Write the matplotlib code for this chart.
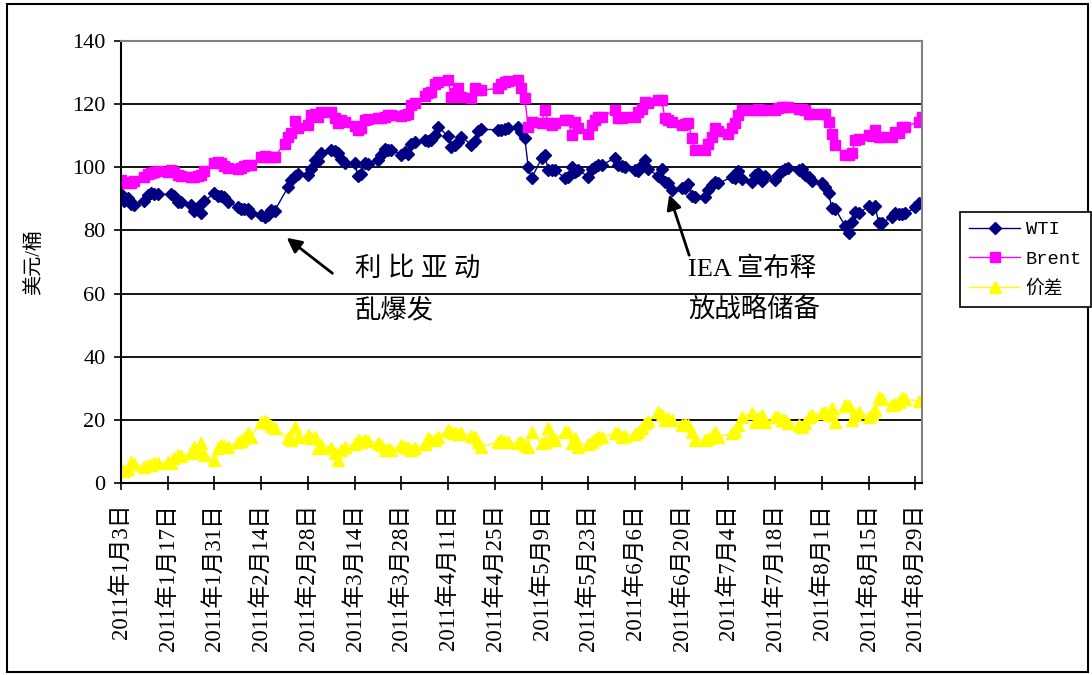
import datetime as dt

import matplotlib
matplotlib.use("Agg")
from matplotlib import pyplot as plt
from matplotlib.patches import Rectangle
import pandas as pd

plt.rcParams['font.family'] = ['Liberation Serif', 'Noto Sans CJK SC']

# 交易日（工作日）
dates = pd.bdate_range("2011-01-03", "2011-08-31")

# WTI 价格，美元/桶（按月）
wti_jan = [91.6, 89.4, 90.3, 88.4, 88.0, 89.3, 91.1, 91.9, 91.4, 91.5, None, 91.4, 90.9, 88.9, 89.1,
           87.9, 86.2, 87.3, 85.6, 89.3, 91.8]
wti_feb = [90.8, 90.9, 90.5, 89.0, 87.5, 86.9, 86.7, 86.7, 85.6, 84.8, 84.3, 85.0, 86.4, 86.2, None,
           93.6, 96.0, 97.3, 97.9, 97.5]
wti_mar = [99.6, 102.2, 101.9, 104.4, 105.4, 105.0, 104.4, 102.7, 101.2, 101.2, 97.2, 98.0, 101.4, 101.1,
           102.3, 104.0, 105.8, 105.6, 105.4, 104.0, 104.8, 104.3, 107.5]
wti_apr = [107.9, 108.5, 108.3, 108.8, 110.3, 112.8, 109.9, 106.3, 107.1, 108.1, 109.7, 107.1, 108.2, 111.5,
           112.0, None, None, 111.9, 111.8, 112.2, 112.6]
wti_may = [112.8, 111.1, 109.2, 100.2, 96.5, 102.8, 103.9, 99.2, 99.0, 99.2, 96.5, 96.9, 100.1, 98.4, 99.2,
           97.0, 99.6, 100.2, 100.7, 100.6, None, 103.0]
wti_jun = [100.7, 100.4, 100.2, 99.2, 98.9, 100.7, 102.3, 99.3, 97.3, 99.4, 95.3, 95.0, 92.8, 93.3, 93.4,
           94.6, 91.0, 90.7, 90.6, 92.9, 94.4, 95.4]
wti_jul = [94.9, None, 96.9, 96.7, 98.7, 96.2, 95.2, 97.4, 98.1, 95.7, 97.2, 95.9, 97.5, 98.7, 99.5,
           99.9, 99.2, 99.6, 97.4, 97.0, 95.5]
wti_aug = [94.9, 93.8, 91.8, 87.0, 86.9, 81.3, 79.3, 82.8, 85.7, 85.5, 87.6, 86.7, 87.6, 82.4, 82.3,
           84.4, 85.5, 85.2, 85.3, 85.4, 87.3, 88.6, 88.8]

# Brent 价格，美元/桶
brent_jan = [96.0, 95.0, 95.3, 95.0, 95.5, 97.0, 97.8, 98.3, 98.5, 98.7, 98.5, 99.2, 98.6, 97.5, 97.2,
             97.0, 96.8, 97.1, 97.5, 98.7, 101.2]
brent_feb = [101.6, 101.5, 100.5, 99.8, 99.6, 99.8, 100.5, 100.8, 100.6, 103.3, 103.5, 103.3, 103.2, 103.3,
             107.5, 109.5, 111.0, 114.6, 112.5, 113.5]
brent_mar = [116.5, 117.0, 116.0, 117.5, 117.6, 115.5, 113.9, 115.0, 114.5, 113.0, 111.8, 112.5, 115.0,
             115.3, 115.5, 115.7, 116.0, 116.5, 116.5, 116.3, 116.6, 116.8, 119.7]
brent_apr = [120.5, 122.5, 123.4, 124.0, 126.5, 127.0, 127.6, 122.3, 123.5, 125.0, 122.3, 122.0, 125.0,
             124.6, 124.4, None, None, 125.0, 126.5, 127.0, 127.3]
brent_may = [127.5, 125.0, 121.8, 112.8, 114.5, 114.0, 118.1, 114.0, 113.5, 113.9, 115.0, 115.0, 110.2,
             114.4, 112.3, 110.7, 113.5, 115.0, 116.0, 116.0, None, 118.1]
brent_jun = [115.5, 115.5, 115.8, 116.0, 117.5, 118.6, 120.7, 120.5, 121.3, 121.3, 115.5, 115.0, 114.4,
             113.4, 113.6, 113.9, 109.2, 105.5, 105.5, 107.5, 109.5, 112.3]
brent_jul = [111.5, 110.7, 112.5, 113.9, 116.5, 118.1, 118.3, 118.0, 118.5, 118.3, 118.3, 118.1, 118.8,
             119.2, 119.2, 119.0, 118.6, 118.6, 118.3, 117.0, 117.0]
brent_aug = [117.0, 116.8, 114.4, 110.7, 107.0, 103.9, 104.0, 104.4, 108.6, 109.0, 110.2, 109.8, 111.8,
             109.7, 109.5, 109.7, 111.3, 111.0, 112.8, 112.8, None, 114.5, 116.0]

# 价差
spread_jan = [4.1, 3.8, 4.5, 6.6, 6.0, 5.2, 5.6, 5.8, 6.2, 6.4, 6.5, 6.2, 7.8, 8.9, 8.4,
              9.5, 11.5, 10.2, 12.6, 8.9, 7.3]
spread_feb = [11.0, 12.0, 11.8, 11.5, 13.1, 13.4, 14.2, 15.7, 14.7, 19.4, 19.5, 18.9, 18.0, 17.3, None,
              14.1, 13.5, 17.8, 14.7, 15.2]
spread_mar = [14.1, 14.5, 11.0, 12.0, 11.0, 9.5, 7.3, 10.5, 11.5, 12.5, 13.6, 13.0, 13.6, 13.4, 12.6,
              12.0, 10.5, 10.8, 10.5, 12.0, 11.5, 11.0, 10.5]
spread_apr = [11.0, 12.5, 14.1, 13.5, 13.6, 14.5, 16.8, 16.0, 15.7, 15.5, 15.7, 15.0, 14.7, 13.0, 11.5,
              None, None, 13.0, 13.6, 13.1, 13.0]
spread_may = [12.6, 13.1, 12.0, 11.5, 16.3, 12.6, 13.0, 17.3, 14.5, 13.6, 16.3, 16.0, 12.6, 14.1, 11.5,
              12.5, 13.1, 14.0, 14.7, 14.5, None, 15.7]
spread_jun = [15.7, 14.7, 15.0, 15.5, 16.3, 17.5, 18.9, 19.5, 22.6, 21.5, 20.0, 20.5, 20.0, 18.4, 18.6,
              18.4, 16.0, 13.6, 13.6, 14.0, 15.0, 16.3]
spread_jul = [14.7, None, 15.7, 16.5, 18.4, 21.0, 22.1, 19.4, 20.5, 21.5, 19.4, 21.0, 21.0, 20.0, 20.0,
              18.9, 18.5, 17.8, 19.0, 21.0, 21.5]
spread_aug = [22.1, 22.5, 21.5, 23.7, 19.4, 24.7, 24.5, 20.0, 21.5, 22.6, 21.0, 22.0, 23.1, 27.3, 26.5,
              24.7, 25.0, 25.5, 26.8, 26.5, None, 26.0, 26.3]

wti = wti_jan + wti_feb + wti_mar + wti_apr + wti_may + wti_jun + wti_jul + wti_aug
brent = brent_jan + brent_feb + brent_mar + brent_apr + brent_may + brent_jun + brent_jul + brent_aug
spread = spread_jan + spread_feb + spread_mar + spread_apr + spread_may + spread_jun + spread_jul + spread_aug

df = pd.DataFrame({'WTI': wti, 'Brent': brent, '价差': spread}, index=dates, dtype=float)

fig = plt.figure(figsize=(10.92, 6.75), dpi=100)
ax = fig.add_axes([121 / 1092, 1 - 483 / 675, 801 / 1092, 442 / 675])

styles = [('WTI', '#000080', 'D', 6.5), ('Brent', '#FF00FF', 's', 7), ('价差', '#FFFF00', '^', 8)]
for name, color, marker, ms in styles:
    s = df[name].dropna()
    ax.plot(s.index, s.values, color=color, lw=1, marker=marker, ms=ms,
            mfc=color, mec=color, label=name)

ax.set_ylim(0, 140)
ax.set_yticks(range(0, 141, 20))
ax.set_xlim(dt.datetime(2011, 1, 3), dt.datetime(2011, 8, 31))
ticks = pd.date_range("2011-01-03", "2011-08-29", freq="14D")
ax.set_xticks(ticks)
ax.set_xticklabels([f"{d.year}年{d.month}月{d.day}日" for d in ticks], rotation=90, fontsize=16.5)
ax.tick_params(axis='y', labelsize=16, direction='out', length=5, width=1.2, pad=6)
ax.tick_params(axis='x', direction='inout', length=10, width=1.2, pad=10)

for y in range(20, 140, 20):
    ax.axhline(y, color='black', lw=1.3, zorder=0)
ax.spines['left'].set_linewidth(1.5)
ax.spines['bottom'].set_linewidth(1.5)
ax.spines['top'].set_color('#808080')
ax.spines['right'].set_color('#808080')
ax.spines['top'].set_linewidth(1.5)
ax.spines['right'].set_linewidth(1.5)

ax.set_ylabel('美元/桶', fontsize=14.5, labelpad=20)

# 注释
ax.annotate('', xy=(dt.datetime(2011, 2, 21), 78.2), xytext=(dt.datetime(2011, 3, 8), 65.9),
            arrowprops=dict(arrowstyle='-|>', color='black', lw=2, mutation_scale=22))
ax.text(dt.datetime(2011, 3, 14), 68, '利 比 亚 动', fontsize=19, va='center', ha='left')
ax.text(dt.datetime(2011, 3, 14), 54.8, '乱爆发', fontsize=19, va='center', ha='left')
ax.annotate('', xy=(dt.datetime(2011, 6, 16), 92.2), xytext=(dt.datetime(2011, 6, 22, 12), 71.3),
            arrowprops=dict(arrowstyle='-|>', color='black', lw=2, mutation_scale=22))
ax.text(dt.datetime(2011, 6, 22), 68, 'IEA 宣布释', fontsize=19, va='center', ha='left')
ax.text(dt.datetime(2011, 6, 22), 54.8, '放战略储备', fontsize=19, va='center', ha='left')

leg = fig.legend(loc='upper left', bbox_to_anchor=(960 / 1092, 1 - 212 / 675), borderaxespad=0,
                 fancybox=False, framealpha=1, edgecolor='black', handlelength=2.7,
                 prop={'family': ['Liberation Mono', 'Noto Sans CJK SC'], 'size': 13.5},
                 labelspacing=0.65, borderpad=0.5, handletextpad=0.3)
leg.get_frame().set_linewidth(1.2)

fig.patches.append(Rectangle((7 / 1092, 3 / 675), 1081 / 1092, 668 / 675, transform=fig.transFigure,
                             fill=False, edgecolor='black', lw=1.5))

fig.savefig('out.png', dpi=100)
